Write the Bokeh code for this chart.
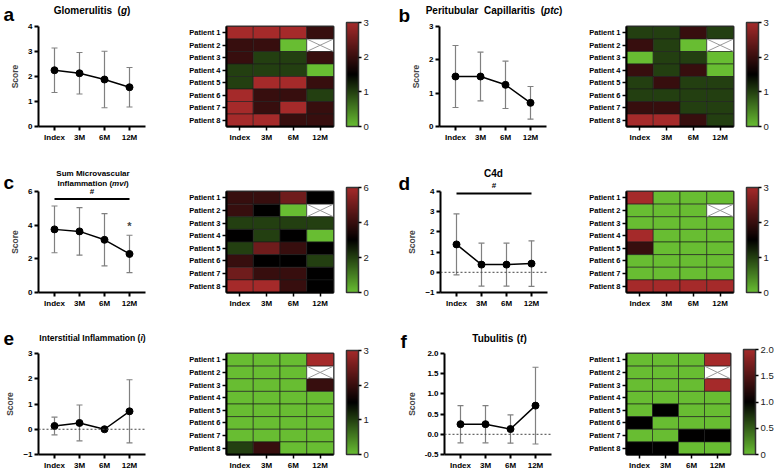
import numpy as np
from bokeh.plotting import figure
from bokeh.models import (Range1d, FixedTicker, Whisker, TeeHead, ColumnDataSource, Span,
                          Label, LinearColorMapper, ColorBar, NumeralTickFormatter, GridBox)
from bokeh.layouts import row, column
from bokeh.embed import file_html
from bokeh.resources import INLINE

FONT = "Liberation Sans"

# ---------------- data ----------------
timepoints = ["Index", "3M", "6M", "12M"]
patients = ["Patient 1", "Patient 2", "Patient 3", "Patient 4",
            "Patient 5", "Patient 6", "Patient 7", "Patient 8"]

# per-patient scores (rows = patients, cols = timepoints); None = missing biopsy
g_scores = [[3, 3, 3, 2], [2, 2, 0, None], [2, 1, 1, 2], [1, 1, 1, 0],
            [1, 3, 3, 2], [3, 2, 2, 1], [3, 2, 3, 2], [3, 3, 2, 2]]
ptc_scores = [[1, 1, 2, 1], [2, 1, 0, None], [0, 1, 1, 0], [2, 1, 2, 0],
              [1, 2, 1, 1], [1, 1, 1, 1], [2, 2, 1, 1], [3, 3, 2, 1]]
mvi_scores = [[4, 4, 5, 3], [4, 3, 0, None], [2, 2, 2, 2], [3, 2, 3, 0],
              [2, 5, 4, 3], [4, 3, 3, 2], [5, 4, 4, 3], [6, 6, 4, 3]]
c4d_scores = [[3, 0, 0, 0], [0, 0, 0, None], [0, 0, 0, 0], [3, 0, 0, 0],
              [2, 0, 0, 0], [0, 0, 0, 0], [0, 0, 0, 0], [3, 3, 3, 3]]
i_scores = [[0, 0, 0, 3], [0, 0, 0, None], [0, 0, 0, 2], [0, 0, 0, 0],
            [0, 0, 0, 0], [0, 0, 0, 0], [0, 0, 0, 0], [1, 2, 0, 0]]
t_scores = [[0, 0, 0, 2], [0, 0, 0, None], [0, 0, 0, 2], [0, 0, 0, 0],
            [0, 1, 0, 0], [1, 0, 0, 0], [0, 0, 1, 1], [1, 1, 0, 0]]

# mean and SD shown in the line charts
g_mean = [2.25, 2.13, 1.88, 1.57]
g_sd = [0.89, 0.83, 1.13, 0.79]
ptc_mean = [1.50, 1.50, 1.25, 0.71]
ptc_sd = [0.93, 0.73, 0.71, 0.49]
mvi_mean = [3.75, 3.63, 3.13, 2.29]
mvi_sd = [1.39, 1.41, 1.55, 1.11]
c4d_mean = [1.38, 0.38, 0.38, 0.43]
c4d_sd = [1.51, 1.06, 1.06, 1.13]
i_mean = [0.13, 0.25, 0.00, 0.71]
i_sd = [0.35, 0.71, 0.00, 1.25]
t_mean = [0.25, 0.25, 0.13, 0.71]
t_sd = [0.46, 0.46, 0.35, 0.95]

# significance annotations (y in score units)
mvi_hash_y = 5.55
mvi_star_y = 3.95
c4d_hash_y = 3.9

# ---------------- layout ----------------
TOTAL_W, TOTAL_H = 776, 473
COL_X = [0, 185, 390, 580]
COL_W = [185, 205, 190, 196]
ROW_Y = [0, 155, 315]
ROW_H = [155, 160, 158]
FW = 107

CW = {' ': 278, '(': 333, ')': 333, 'A': 722, 'C': 722, 'G': 778, 'I': 278, 'M': 833,
      'P': 667, 'S': 667, 'T': 611, 'a': 556, 'b': 611, 'c': 556, 'd': 611, 'e': 556,
      'f': 333, 'g': 611, 'i': 278, 'l': 278, 'm': 889, 'n': 611, 'o': 611, 'p': 611,
      'r': 389, 's': 556, 't': 333, 'u': 611, 'v': 556, '4': 556}


def tw(s, size):
    return sum(CW.get(ch, 556) for ch in s) * size / 1000.0


def make_palette(n=256):
    g = (104, 189, 50)
    rd = (165, 42, 42)
    out = []
    for k in range(n):
        t = k / (n - 1)
        if t < 0.5:
            a = 1 - t / 0.5
            c = tuple(int(round(g[j] * a)) for j in range(3))
        else:
            a = (t - 0.5) / 0.5
            c = tuple(int(round(rd[j] * a)) for j in range(3))
        out.append("#%02x%02x%02x" % c)
    return out


PAL = make_palette()

# transparent overlay figure (page pixel coordinates) for panel letters and titles
ov = figure(width=TOTAL_W, height=TOTAL_H, title=None, x_range=Range1d(0, TOTAL_W),
            y_range=Range1d(TOTAL_H, 0), x_axis_type=None, y_axis_type=None,
            output_backend="svg", toolbar_location=None,
            min_border_left=0, min_border_right=0, min_border_top=0, min_border_bottom=0)
ov.background_fill_alpha = 0
ov.border_fill_alpha = 0
ov.outline_line_color = None


def ov_label(px, py, text, size, style="bold", align="left", baseline="middle"):
    ov.add_layout(Label(x=px, y=py, text=text, text_font=FONT, text_font_size=f"{size}px",
                        text_font_style=style, text_align=align, text_baseline=baseline,
                        text_color="black"))


def add_title(lines, cx, ys, size):
    for pieces, ry in zip(lines, ys):
        total = sum(tw(t, size) for t, _ in pieces)
        x = cx - total / 2
        for t, it in pieces:
            if t.strip():
                ov_label(x, ry, t, size, "bold italic" if it else "bold")
            x += tw(t, size)


def style_axis(ax, size="8px"):
    ax.axis_line_width = 2
    ax.axis_line_color = "black"
    ax.major_tick_line_width = 2
    ax.major_tick_line_color = "black"
    ax.major_tick_out = 4
    ax.major_tick_in = 0
    ax.minor_tick_line_color = None
    ax.major_label_text_font = FONT
    ax.major_label_text_font_style = "bold"
    ax.major_label_text_font_size = size
    ax.major_label_text_color = "black"
    ax.major_label_standoff = 2


def build_line(sp):
    r = sp["row"]
    ci = sp["col"] * 2
    W, H = COL_W[ci], ROW_H[r]
    L, T, fh = sp["line_box"]
    ylo, yhi = sp["yrange"]
    p = figure(width=W, height=H, title=None, x_range=Range1d(-0.64, 3.64),
               y_range=Range1d(ylo, yhi), output_backend="svg", toolbar_location=None,
               min_border_left=L, min_border_right=W - L - FW,
               min_border_top=T, min_border_bottom=H - T - fh)
    p.outline_line_color = None
    p.xgrid.visible = False
    p.ygrid.visible = False
    for ax in (p.xaxis[0], p.yaxis[0]):
        style_axis(ax)
    p.xaxis.ticker = FixedTicker(ticks=list(range(len(timepoints))))
    p.xaxis.major_label_overrides = {i: t for i, t in enumerate(timepoints)}
    p.yaxis.ticker = FixedTicker(ticks=sp["yticks"])
    if sp.get("yfmt"):
        p.yaxis.formatter = NumeralTickFormatter(format=sp["yfmt"])
    p.yaxis.axis_label = "Score"
    p.yaxis.axis_label_text_font = FONT
    p.yaxis.axis_label_text_font_style = "bold"
    p.yaxis.axis_label_text_font_size = "8.5px"
    p.yaxis.axis_label_standoff = 5

    mean, sd = sp["mean"], sp["sd"]
    src = ColumnDataSource(dict(x=list(range(len(timepoints))), m=mean,
                                lo=[m - s for m, s in zip(mean, sd)],
                                hi=[m + s for m, s in zip(mean, sd)]))
    if ylo < 0:
        p.add_layout(Span(location=0, dimension="width", line_dash="2 2",
                          line_color="#444444", line_width=1))
    wc = "#808080"
    wk = Whisker(base="x", upper="hi", lower="lo", source=src, line_color=wc,
                 line_width=1.2,
                 upper_head=TeeHead(size=6, line_color=wc, line_width=1.2),
                 lower_head=TeeHead(size=6, line_color=wc, line_width=1.2))
    p.add_layout(wk)
    p.line("x", "m", source=src, line_color="black", line_width=1.5)
    p.scatter("x", "m", source=src, size=7, color="black")

    # frame geometry on the page, used to place outside-frame text in the overlay
    ftop = ROW_Y[r] + T
    fleft = COL_X[ci] + L

    def page_y(v):
        return ftop + (yhi - v) / (yhi - ylo) * fh

    lx, ly = sp["letter_pos"]
    ov_label(lx, ly, sp["key"], 19, "bold", "left", "alphabetic")
    add_title(sp["title"], sp["tcx"], sp["tys"], sp["tsize"])

    for ann in sp.get("sig", []):
        kind = ann[0]
        if kind == "bar":
            _, y, sym = ann
            p.line(x=[0, len(timepoints) - 1], y=[y, y], line_color="black", line_width=2)
            xc = fleft + (1.5 + 0.64) / (3.64 + 0.64) * FW
            ov_label(xc, page_y(y) - 8, sym, 8, "bold", "center", "middle")
        elif kind == "star":
            _, xi, y = ann
            p.add_layout(Label(x=xi, y=y, text="*", text_font=FONT,
                               text_font_size="11px", text_font_style="bold",
                               text_align="center", text_baseline="middle"))
    return p


def build_heat(sp):
    r = sp["row"]
    ci = sp["col"] * 2 + 1
    W, H = COL_W[ci], ROW_H[r]
    L, T, fh = sp["heat_box"]
    p = figure(width=W, height=H, title=None, x_range=Range1d(0, len(timepoints)),
               y_range=Range1d(len(patients), 0), output_backend="svg",
               toolbar_location=None,
               min_border_left=L, min_border_right=W - L - FW,
               min_border_top=T, min_border_bottom=H - T - fh)
    p.xgrid.visible = False
    p.ygrid.visible = False
    p.outline_line_color = "#333333"
    p.outline_line_width = 2
    for ax in (p.xaxis[0], p.yaxis[0]):
        style_axis(ax)
        ax.major_tick_line_width = 1.5
    p.yaxis.major_label_text_font_size = "7.5px"
    p.xaxis.ticker = FixedTicker(ticks=[i + 0.5 for i in range(len(timepoints))])
    p.xaxis.major_label_overrides = {i + 0.5: t for i, t in enumerate(timepoints)}
    p.yaxis.ticker = FixedTicker(ticks=[i + 0.5 for i in range(len(patients))])
    p.yaxis.major_label_overrides = {i + 0.5: t for i, t in enumerate(patients)}

    xs, ys, vs, miss = [], [], [], []
    for i, prow in enumerate(sp["scores"]):
        for j, v in enumerate(prow):
            xs.append(j + 0.5)
            ys.append(i + 0.5)
            vs.append(np.nan if v is None else float(v))
            if v is None:
                miss.append((j, i))
    mapper = LinearColorMapper(palette=PAL, low=0, high=sp["vmax"], nan_color="white")
    src = ColumnDataSource(dict(x=xs, y=ys, v=np.array(vs, dtype=float)))
    p.rect(x="x", y="y", width=1, height=1, source=src,
           fill_color={"field": "v", "transform": mapper},
           line_color="#1a1a1a", line_alpha=0.6, line_width=1)
    if miss:
        x0 = [j for j, i in miss] + [j for j, i in miss]
        y0 = [i for j, i in miss] + [i + 1 for j, i in miss]
        x1 = [j + 1 for j, i in miss] + [j + 1 for j, i in miss]
        y1 = [i + 1 for j, i in miss] + [i for j, i in miss]
        p.segment(x0=x0, y0=y0, x1=x1, y1=y1, line_color="#9a9a9a", line_width=1)

    cb = ColorBar(color_mapper=mapper, ticker=FixedTicker(ticks=sp["cbticks"]),
                  width=12, height=fh, padding=0, margin=0, location=(13, 0),
                  major_label_text_font=FONT, major_label_text_font_size="9.5px",
                  major_label_text_color="#222222",
                  major_tick_in=0, major_tick_out=3, major_tick_line_color="black",
                  major_tick_line_width=1.5, minor_tick_line_color=None,
                  label_standoff=2, bar_line_color="#333333", bar_line_width=1.5,
                  border_line_color=None, background_fill_color=None)
    if sp.get("cbfmt"):
        cb.formatter = NumeralTickFormatter(format=sp["cbfmt"])
        cb.major_label_overrides = {0: "0"}
    p.add_layout(cb, "right")
    return p


SPECS = [
    dict(key="a", row=0, col=0,
         title=[[("Glomerulitis", False), ("  ", False), ("(", False), ("g", True), (")", False)]],
         tcx=91.5, tys=[10], tsize=10,
         scores=g_scores, mean=g_mean, sd=g_sd, yrange=(0, 4), yticks=[0, 1, 2, 3, 4],
         vmax=3, cbticks=[0, 1, 2, 3], line_box=(38, 26, 105), heat_box=(41, 22, 104),
         letter_pos=(3, 14)),
    dict(key="b", row=0, col=1,
         title=[[("Peritubular", False), ("  ", False), ("Capillaritis", False), ("  ", False),
                 ("(", False), ("ptc", True), (")", False)]],
         tcx=493.5, tys=[10], tsize=10,
         scores=ptc_scores, mean=ptc_mean, sd=ptc_sd, yrange=(0, 3), yticks=[0, 1, 2, 3],
         vmax=3, cbticks=[0, 1, 2, 3], line_box=(49, 26, 105), heat_box=(46, 22, 104),
         letter_pos=(398, 15)),
    dict(key="c", row=1, col=0,
         title=[[("Sum Microvascular", False)],
                [("Inflammation", False), (" ", False), ("(", False), ("mvi", True), (")", False)]],
         tcx=92.5, tys=[173, 182.5], tsize=8,
         scores=mvi_scores, mean=mvi_mean, sd=mvi_sd, yrange=(0, 6), yticks=[0, 2, 4, 6],
         vmax=6, cbticks=[0, 2, 4, 6], line_box=(38, 36, 105), heat_box=(41, 32, 105),
         letter_pos=(3, 182),
         sig=[("bar", mvi_hash_y, "#"), ("star", 3, mvi_star_y)]),
    dict(key="d", row=1, col=1,
         title=[[("C4d", False)]],
         tcx=493, tys=[173], tsize=10,
         scores=c4d_scores, mean=c4d_mean, sd=c4d_sd, yrange=(-1, 4),
         yticks=[-1, 0, 1, 2, 3, 4], vmax=3, cbticks=[0, 1, 2, 3],
         line_box=(50, 36, 105), heat_box=(46, 32, 105), letter_pos=(398, 183),
         sig=[("bar", c4d_hash_y, "#")]),
    dict(key="e", row=2, col=0,
         title=[[("Interstitial", False), (" ", False), ("Inflammation", False), (" ", False),
                 ("(", False), ("i", True), (")", False)]],
         tcx=92, tys=[337], tsize=8.5,
         scores=i_scores, mean=i_mean, sd=i_sd, yrange=(-1, 3), yticks=[-1, 0, 1, 2, 3],
         vmax=3, cbticks=[0, 1, 2, 3], line_box=(38, 34, 105), heat_box=(41, 37, 104),
         letter_pos=(3, 338)),
    dict(key="f", row=2, col=1,
         title=[[("Tubulitis", False), (" ", False), ("(", False), ("t", True), (")", False)]],
         tcx=499, tys=[338], tsize=10,
         scores=t_scores, mean=t_mean, sd=t_sd, yrange=(-0.5, 2.0),
         yticks=[-0.5, 0, 0.5, 1.0, 1.5, 2.0], yfmt="0.0",
         vmax=2, cbticks=[0, 0.5, 1.0, 1.5, 2.0], cbfmt="0.0",
         line_box=(54, 38, 104), heat_box=(46, 36, 105), letter_pos=(400, 341)),
]

rows = []
for rr in range(3):
    figs = []
    for sp in [s for s in SPECS if s["row"] == rr]:
        figs.append(build_line(sp))
        figs.append(build_heat(sp))
    rows.append(row(*figs, spacing=0))

main = column(*rows, spacing=0)
page = GridBox(children=[(main, 0, 0), (ov, 0, 0)])

with open("out.html", "w") as fh_out:
    fh_out.write(file_html(page, INLINE))
